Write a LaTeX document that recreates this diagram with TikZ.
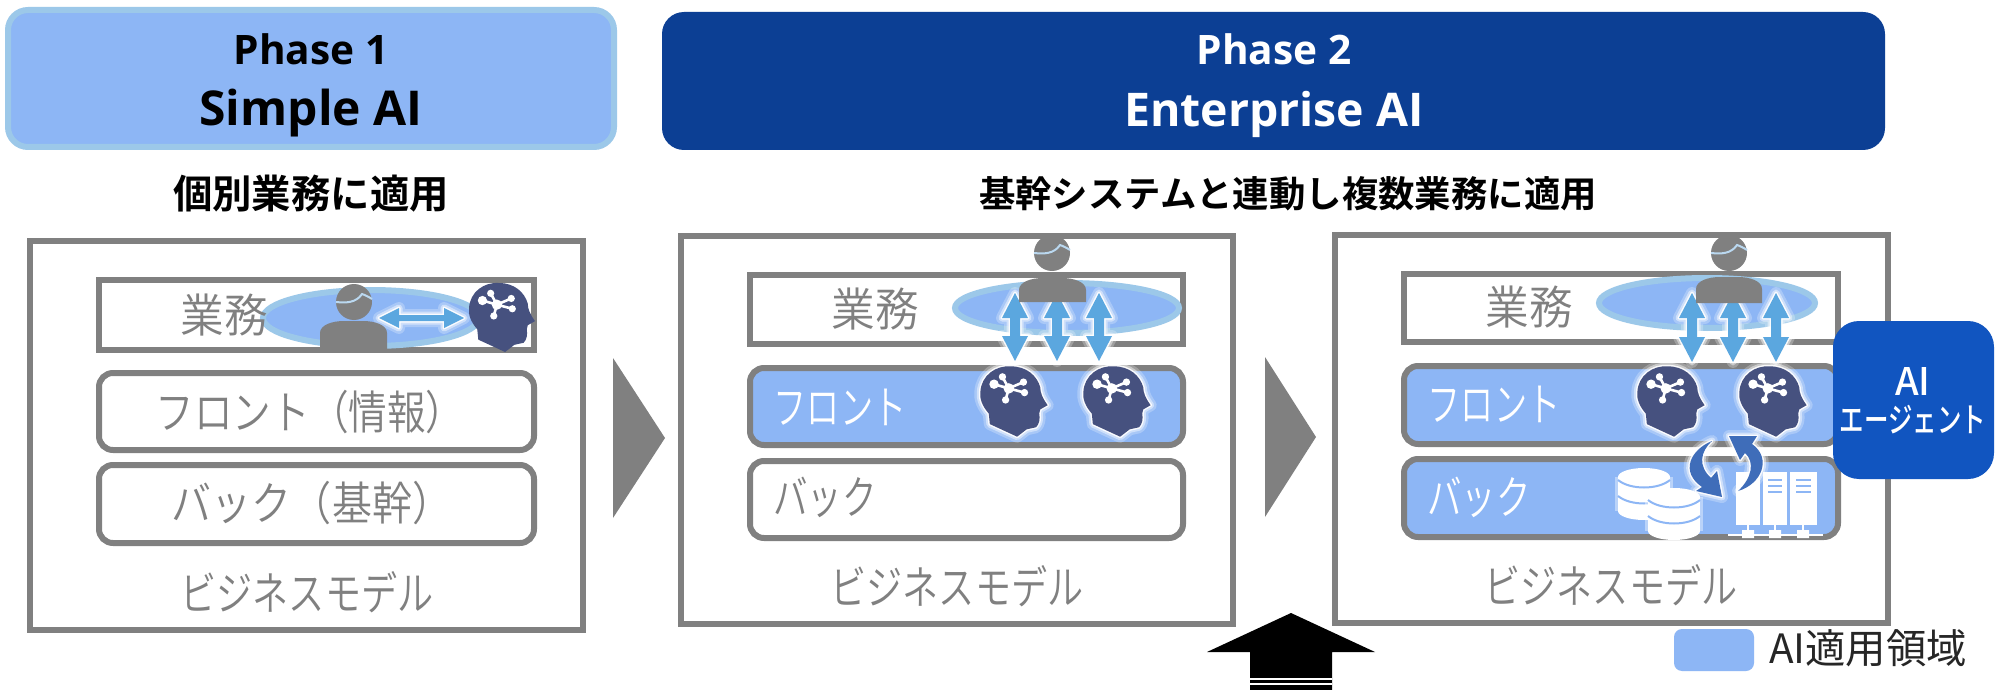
\documentclass[tikz,border=0pt]{standalone}
\usepackage{fontspec}
\setmainfont{Open Sans}
\newfontfamily\jp{Noto Sans CJK JP DemiLight}
\newfontfamily\jpr{Noto Sans CJK JP}
\newfontfamily\jpm{Noto Sans CJK JP Medium}
\newfontfamily\jpb{Noto Sans CJK JP Bold}
\definecolor{panelgray}{HTML}{808080}
\definecolor{areablue}{HTML}{8DB6F5}
\definecolor{ringblue}{HTML}{9CC8E9}
\definecolor{navy}{HTML}{0C3F94}
\definecolor{agentblue}{HTML}{1155C0}
\definecolor{arrowblue}{HTML}{5BA7DF}
\definecolor{headblue}{HTML}{46517F}
\definecolor{cycleblue}{HTML}{3F6DB9}
\newcommand\nar[2]{\scalebox{#1}[1]{#2}}
\tikzset{
  x=0.5pt,y=-0.5pt,
  panel/.style={draw=panelgray,line width=3pt,fill=white},
  layerbox/.style={draw=panelgray,line width=3pt,fill=white,rounded corners=7pt},
  layerai/.style={draw=panelgray,line width=3pt,fill=areablue,rounded corners=7pt},
  region/.style={draw=ringblue,fill=areablue,line width=3pt},
  graytext/.style={text=panelgray,font=\jp\fontsize{23}{26}\selectfont,inner sep=0pt},
  whitetext/.style={text=white,font=\jp\fontsize{23}{26}\selectfont,inner sep=0pt},
  headtext/.style={text=black,inner sep=0pt},
  phase/.style={inner sep=0pt,font=\bfseries\fontsize{20.3}{24}\selectfont},
  phasebig/.style={inner sep=0pt,font=\bfseries\fontsize{24}{28}\selectfont},
  phaseent/.style={inner sep=0pt,font=\bfseries\fontsize{23.2}{28}\selectfont},
  agenttext/.style={text=white,inner sep=0pt,font=\jpm\fontsize{17}{20}\selectfont},
  agentai/.style={text=white,inner sep=0pt,font=\jpm\fontsize{19}{22}\selectfont},
  chevron/.style={fill=panelgray},
}
\newcommand\glowfill[2]{%
  \path[draw=white,opacity=.25,line width=6pt,line join=round] #2;
  \path[draw=white,opacity=.45,line width=3.5pt,line join=round] #2;
  \path[draw=white,opacity=.9,line width=1.5pt,line join=round] #2;
  \path[fill=#1] #2;}
\newcommand\dblv[3]{% x, top, bottom
  \glowfill{arrowblue}{(#1,#2) -- ++(13,25) -- ++(-8,0) -- (#1+5,#3-25) -- ++(8,0) -- (#1,#3) -- ++(-13,-25) -- ++(8,0) -- (#1-5,#2+25) -- ++(-8,0) -- cycle}}
\newcommand\dblh[3]{% left, right, y
  \glowfill{arrowblue}{(#1,#3) -- ++(20,-10) -- ++(0,7) -- (#2-20,#3-3) -- ++(0,-7) -- (#2,#3) -- ++(-20,10) -- ++(0,-7) -- (#1+20,#3+3) -- ++(0,7) -- cycle}}
\newcommand\personfig[6]{% head x,y, body left,right,top,bottom
  \fill[panelgray] (#1,#2) circle (18);
  \draw[ringblue!70!white,line width=1pt] (#1-18,#2) .. controls (#1-8,#2+1) and (#1+2,#2+1) .. (#1+8,#2-8) .. controls (#1+11,#2-7) and (#1+15,#2-5) .. (#1+18,#2-3);
  \fill[panelgray] (#3,#6) -- (#3,#5+12) .. controls (#3,#5+4) and (#3+12,#5) .. (#3+24,#5) -- (#4-24,#5) .. controls (#4-12,#5) and (#4,#5+4) .. (#4,#5+12) -- (#4,#6) -- cycle;}
\def\headoutline{(-23,22) -- (-24,12) .. controls (-30,5) and (-33,-2) .. (-32,-9) .. controls (-31,-24) and (-18,-34) .. (-3,-33) .. controls (12,-33) and (22,-24) .. (25,-13) .. controls (25,-8) and (27,-3) .. (32,4) -- (25,8) -- (24,12) .. controls (25,17) and (24,22) .. (21,25) -- (12,27) -- (3,34) -- cycle}
\newcommand\headnet{%
  \draw[white,line width=1.3pt,line cap=round] (-5,-12) -- (-19,-16) (-5,-12) -- (-11,-23) (-5,-12) -- (9,-18) (-5,-12) -- (10,-8) (-5,-12) -- (-8,-1);
  \fill[white] (-5,-12) circle (5) (-19,-16) circle (4.5) (-11,-23) circle (3.5) (9,-18) circle (3.5) (10,-8) circle (3.5) (-8,-1) circle (3.5);}
\newcommand\aihead[2]{\begin{scope}[shift={(#1,#2)},scale=1.05]\glowfill{headblue}{\headoutline}\headnet\end{scope}}
\newcommand\aiheadplain[2]{\begin{scope}[shift={(#1,#2)},scale=1.03]\fill[headblue] \headoutline;\headnet\end{scope}}
\newcommand\dbcyl[3]{% cx, top, bottom
  \path[draw=white,opacity=.4,line width=3pt] (#1-26,#2+9) -- (#1-26,#3-9) (#1+26,#2+9) -- (#1+26,#3-9);
  \fill[white] (#1,#2+9) ellipse [x radius=26,y radius=9];
  \fill[white] (#1,#3-9) ellipse [x radius=26,y radius=9];
  \fill[white] (#1-26,#2+9) rectangle (#1+26,#3-9);
  \draw[areablue,line width=1pt] (#1-26,#2+12) .. controls (#1-14,#2+22) and (#1+14,#2+22) .. (#1+26,#2+12);
  \draw[areablue,line width=1pt] (#1-26,#2+28) .. controls (#1-14,#2+38) and (#1+14,#2+38) .. (#1+26,#2+28);}
\newcommand\tower[2]{\fill[white] (#1,472) rectangle (#2,525);}
\begin{document}
\begin{tikzpicture}
\useasboundingbox (0,0) rectangle (2004,690);
\fill[white] (0,0) rectangle (2004,690);
% headers
\draw[draw=ringblue,fill=areablue,line width=3pt,rounded corners=10pt] (8,10) rectangle (614,147);
\fill[navy,rounded corners=11pt] (662,12) rectangle (1885,150);
\node[phase,text=black] (p1a) at (311,49) {Phase 1};
\node[phasebig,text=black] (p1b) at (311,113) {Simple AI};
\node[phase,text=white] (p2a) at (1274,49) {Phase 2};
\node[phaseent,text=white] (p2b) at (1274,114) {Enterprise AI};
\node[headtext,font=\jpb\fontsize{19.7}{22}\selectfont] (h1) at (311,194) {個別業務に適用};
\node[headtext,font=\jpb\fontsize{18.2}{22}\selectfont] (h2) at (1288,194) {基幹システムと連動し複数業務に適用};
% panel 1
\draw[panel] (30,241) rectangle (583,630);
\draw[panel] (99,280) rectangle (534,350);
\draw[layerbox] (99,373) rectangle (534,450);
\draw[layerbox] (99,465) rectangle (534,543);
\draw[region] (371,318) ellipse [x radius=108,y radius=28];
\node[graytext] (a1) at (224,315) {\nar{.95}{業務}};
\dblh{379}{464}{318}
\personfig{354}{302}{320}{387}{321}{351}
\aiheadplain{502}{317}
\node[graytext] (a2) at (310,412) {\nar{.84}{フロント（情報）}};
\node[graytext] (a3) at (312,503) {\nar{.87}{バック（基幹）}};
\node[graytext] (a4) at (307,592) {\nar{.785}{ビジネスモデル}};
\fill[chevron] (613,358) -- (665,438) -- (613,518) -- cycle;
% panel 2
\draw[panel] (681,236) rectangle (1233,624);
\draw[panel] (750,275) rectangle (1183,344);
\draw[layerai] (750,368) rectangle (1183,445);
\draw[layerbox] (750,461) rectangle (1183,538);
\node[graytext] (b1) at (875,309) {\nar{.95}{業務}};
\draw[region] (1067,308) ellipse [x radius=112,y radius=25];
\dblv{1015}{293}{361}
\dblv{1057}{293}{361}
\dblv{1099}{293}{361}
\personfig{1052}{253}{1019}{1086}{278}{302}
\aihead{1014}{401}
\aihead{1117}{401}
\node[whitetext] (b2) at (840,407) {\nar{.72}{フロント}};
\node[graytext] (b3) at (825,497) {\nar{.75}{バック}};
\node[graytext] (b4) at (957,586) {\nar{.785}{ビジネスモデル}};
\fill[chevron] (1265,357) -- (1316,437) -- (1265,517) -- cycle;
% panel 3
\draw[panel] (1335,235) rectangle (1888,623);
\draw[panel] (1404,274) rectangle (1838,342);
\draw[layerai] (1404,366) rectangle (1838,444);
\draw[layerai] (1404,459) rectangle (1838,537);
\node[graytext] (c1) at (1529,307) {\nar{.95}{業務}};
\draw[region] (1707,303) ellipse [x radius=108,y radius=25];
\dblv{1692}{293}{362}
\dblv{1733}{293}{362}
\dblv{1776}{293}{362}
\personfig{1729}{253}{1696}{1762}{277}{303}
\aihead{1671}{401}
\aihead{1773}{401}
\node[whitetext] (c2) at (1494,404) {\nar{.72}{フロント}};
\node[whitetext] (c3) at (1479,497) {\nar{.75}{バック}};
\dbcyl{1644}{468}{520}
\dbcyl{1674}{488}{540}
\tower{1736}{1760}\tower{1763}{1787}\tower{1790}{1817}
\draw[areablue,line width=1pt] (1768,480) -- (1782,480) (1768,486) -- (1782,486) (1768,492) -- (1782,492)
  (1796,480) -- (1811,480) (1796,486) -- (1811,486) (1796,492) -- (1811,492);
\draw[white,line width=1pt] (1728,535) -- (1823,535) (1748,525) -- (1748,535) (1775,525) -- (1775,535) (1803,525) -- (1803,535);
\fill[white] (1742,530) rectangle (1754,538) (1769,530) rectangle (1781,538) (1797,530) rectangle (1809,538);
\glowfill{cycleblue}{(1712,441) .. controls (1690,450) and (1680,472) .. (1702,487) -- (1696,491) -- (1722,497) -- (1717,471) -- (1711,478) .. controls (1698,466) and (1700,452) .. cycle}
\glowfill{cycleblue}{(1738,491) .. controls (1762,484) and (1772,458) .. (1752,444) -- (1757,436) -- (1729,436) -- (1740,460) -- (1745,453) .. controls (1755,462) and (1752,478) .. cycle}
\node[graytext] (c4) at (1611,585) {\nar{.785}{ビジネスモデル}};
% agent
\fill[agentblue,rounded corners=13pt] (1833,321) rectangle (1994,479);
\node[agentai] (ag1) at (1913,381) {AI};
\node[agenttext] (ag2) at (1913,420) {\nar{.72}{エージェント}};
% big arrow
\fill[black] (1291,613) -- (1375,652) -- (1332,652) -- (1332,690) -- (1250,690) -- (1250,652) -- (1207,652) -- cycle;
\draw[white,line width=.6pt] (1250,679) -- (1332,679) (1250,684) -- (1332,684);
% legend
\fill[areablue,rounded corners=4pt] (1674,629) rectangle (1754,671);
\node[text=black!85,inner sep=0pt,font=\jpr\fontsize{20.2}{24}\selectfont] (leg) at (1868,648) {AI適用領域};
\end{tikzpicture}
\end{document}
